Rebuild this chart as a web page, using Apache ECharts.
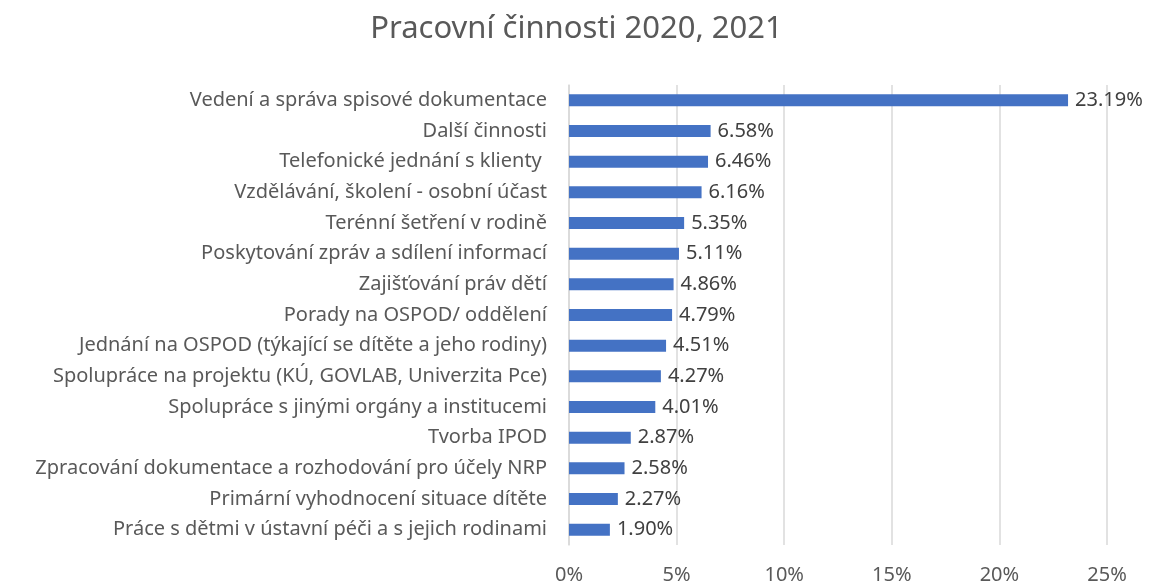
<!DOCTYPE html>
<html>
<head>
<meta charset="utf-8">
<script src="https://cdn.jsdelivr.net/npm/echarts@6/dist/echarts.min.js"></script>
<style>
  html, body { margin: 0; padding: 0; background: #fff; }
  #chart { width: 1153px; height: 586px; }
</style>
</head>
<body>
<div id="chart"></div>
<script>
var categories = [
    'Vedení a správa spisové dokumentace',
    'Další činnosti',
    'Telefonické jednání s klienty ',
    'Vzdělávání, školení - osobní účast',
    'Terénní šetření v rodině',
    'Poskytování zpráv a sdílení informací',
    'Zajišťování práv dětí',
    'Porady na OSPOD/ oddělení',
    'Jednání na OSPOD (týkající se dítěte a jeho rodiny)',
    'Spolupráce na projektu (KÚ, GOVLAB, Univerzita Pce)',
    'Spolupráce s jinými orgány a institucemi',
    'Tvorba IPOD',
    'Zpracování dokumentace a rozhodování pro účely NRP',
    'Primární vyhodnocení situace dítěte',
    'Práce s dětmi v ústavní péči a s jejich rodinami'
];
var shares = [23.19, 6.58, 6.46, 6.16, 5.35, 5.11, 4.86, 4.79, 4.51, 4.27, 4.01, 2.87, 2.58, 2.27, 1.90];

var font = '"Noto Sans", "Liberation Sans", Arial, sans-serif';
var chart = echarts.init(document.getElementById('chart'));

var option = {
    animation: false,
    backgroundColor: '#ffffff',
    title: {
        text: 'Pracovní činnosti 2020, 2021',
        left: 'center',
        top: 9,
        textStyle: {
            fontFamily: font,
            fontSize: 31,
            fontWeight: 'normal',
            color: '#595959'
        }
    },
    grid: {
        left: 569,
        right: 46,
        top: 85,
        bottom: 41,
        containLabel: false
    },
    xAxis: {
        type: 'value',
        min: 0,
        max: 25,
        interval: 5,
        axisLine: { show: false },
        axisTick: { show: false },
        axisLabel: {
            formatter: '{value}%',
            margin: 20,
            fontFamily: font,
            fontSize: 20,
            color: '#595959'
        },
        splitLine: {
            lineStyle: { color: '#d9d9d9', width: 1.5 }
        }
    },
    yAxis: {
        type: 'category',
        data: categories,
        inverse: true,
        axisLine: { show: true, lineStyle: { color: '#d9d9d9', width: 1.5 } },
        axisTick: { show: false },
        axisLabel: {
            margin: 22,
            fontFamily: font,
            fontSize: 20,
            color: '#595959'
        }
    },
    series: [{
        type: 'bar',
        data: shares,
        barWidth: 12,
        itemStyle: { color: '#4472c4' },
        label: {
            show: true,
            position: 'right',
            distance: 7,
            formatter: function (p) { return p.value.toFixed(2) + '%'; },
            fontFamily: font,
            fontSize: 20,
            color: '#404040'
        }
    }]
};

chart.setOption(option);
</script>
</body>
</html>
